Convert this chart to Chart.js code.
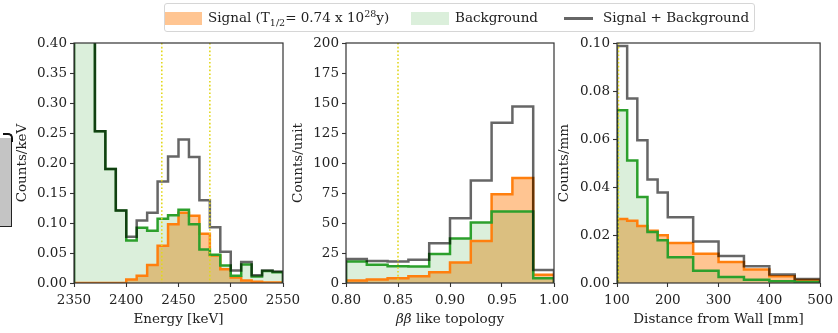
<!DOCTYPE html>
<html>
<head>
<meta charset="utf-8">
<script src="https://cdn.jsdelivr.net/npm/chart.js@4.4.1/dist/chart.umd.min.js"></script>
<style>
  body { margin: 0; width: 838px; height: 333px; background: #fff; position: relative; overflow: hidden; font-family: "DejaVu Serif", serif; color: #222; }
  canvas { position: absolute; left: 0; top: 0; }
  #legend { position: absolute; left: 164px; top: 3px; width: 591px; height: 29px; box-sizing: border-box; border: 1px solid #d6d6d6; border-radius: 3px; background: #fff; }
  #legend .sw { position: absolute; top: 8px; width: 37px; height: 13px; }
  #legend .txt { position: absolute; top: 5px; font-size: 13.5px; line-height: 17px; white-space: nowrap; }
  #legend sub, #legend sup { font-size: 9.5px; line-height: 0; }
  #legend .ln { position: absolute; top: 13px; width: 29px; height: 2.5px; background: rgba(0,0,0,0.6); }
  #stub { position: absolute; left: 0; top: 138px; width: 11px; height: 88px; background: #c4c4c4; border-right: 1.5px solid #222; border-bottom: 1.5px solid #222; }
  #stub-hook { position: absolute; left: 3px; top: 133px; width: 8px; height: 7px; border-top: 2.5px solid #111; border-right: 2.5px solid #111; border-top-right-radius: 5px; }
</style>
</head>
<body>
<canvas id="energy" width="838" height="333"></canvas>
<canvas id="topology" width="838" height="333"></canvas>
<canvas id="wall" width="838" height="333"></canvas>

<div id="stub"></div>
<div id="stub-hook"></div>

<div id="legend">
  <div class="sw" style="left:0px; background: rgba(255,127,14,0.45);"></div>
  <div class="txt" style="left:43px;">Signal (T<sub>1/2</sub>= 0.74 x 10<sup>28</sup>y)</div>
  <div class="sw" style="left:246px; width:38px; background: rgba(44,160,44,0.17);"></div>
  <div class="txt" style="left:290px;">Background</div>
  <div class="ln" style="left:399px;"></div>
  <div class="txt" style="left:438px;">Signal + Background</div>
</div>

<script>
// energy spectrum, 10 keV bins
const energyEdges = [2350, 2360, 2370, 2380, 2390, 2400, 2410, 2420, 2430, 2440, 2450,
                     2460, 2470, 2480, 2490, 2500, 2510, 2520, 2530, 2540, 2550];
const energySignal = [0, 0, 0, 0, 0, 0.006, 0.012, 0.030, 0.062, 0.098, 0.117,
                      0.112, 0.082, 0.046, 0.023, 0.009, 0.004, 0.002, 0.001, 0.001];
const energyBackground = [0.62, 0.50, 0.253, 0.190, 0.121, 0.071, 0.092, 0.087, 0.107, 0.113,
                          0.122, 0.098, 0.056, 0.047, 0.029, 0.012, 0.031, 0.011, 0.020, 0.018];
const energyCuts = [2434, 2480];

// topology classifier output
const topoEdges = [0.80, 0.82, 0.84, 0.86, 0.88, 0.90, 0.92, 0.94, 0.96, 0.98, 1.00];
const topoSignal = [2, 3, 4, 5.6, 9, 17, 35, 74, 87.5, 6.8];
const topoBackground = [18, 15.3, 14, 13.8, 24.2, 37, 50.5, 59.5, 59.5, 4];
const topoCuts = [0.85];

// distance from the wall
const wallEdges = [100, 120, 140, 160, 180, 200, 250, 300, 350, 400, 450, 500];
const wallSignal = [0.0267, 0.0259, 0.0237, 0.0218, 0.0199, 0.0167, 0.0122, 0.0088, 0.0056, 0.0028, 0.0013];
const wallBackground = [0.0720, 0.0510, 0.0358, 0.0213, 0.0178, 0.0107, 0.0051, 0.0025, 0.0014, 0.0007, 0.0004];
const wallCuts = [103];

const FONT = { family: 'DejaVu Serif', size: 13.5 };
Chart.defaults.font.family = FONT.family;
Chart.defaults.font.size = FONT.size;
Chart.defaults.color = '#222';

// histogram outline: rise from zero at the first edge, drop back at the last
function steps(edges, values) {
  const pts = [{ x: edges[0], y: 0 }];
  values.forEach((v, i) => pts.push({ x: edges[i], y: v }));
  pts.push({ x: edges[edges.length - 1], y: values[values.length - 1] });
  pts.push({ x: edges[edges.length - 1], y: 0 });
  return pts;
}

// cut lines plus the box around the axes
function framePlugin(cuts) {
  return {
    id: 'frame',
    afterDatasetsDraw(chart) {
      const { ctx, chartArea: a } = chart;
      const x = chart.scales.x;
      ctx.save();
      ctx.strokeStyle = '#e2d81c';
      ctx.lineWidth = 1.6;
      ctx.setLineDash([1.6, 2.2]);
      cuts.forEach(v => {
        const px = x.getPixelForValue(v);
        ctx.beginPath();
        ctx.moveTo(px, a.top);
        ctx.lineTo(px, a.bottom);
        ctx.stroke();
      });
      ctx.setLineDash([]);
      ctx.strokeStyle = '#333';
      ctx.lineWidth = 1.2;
      ctx.strokeRect(a.left, a.top, a.right - a.left, a.bottom - a.top);
      ctx.restore();
    }
  };
}

// x title with an italic beta-beta in front
const betaTitle = {
  id: 'betaTitle',
  afterDraw(chart) {
    const { ctx, chartArea: a } = chart;
    const y = chart.scales.x.bottom - 5 - FONT.size * 1.2 / 2;
    const italic = 'italic ' + FONT.size + 'px "DejaVu Serif"';
    const roman = FONT.size + 'px "DejaVu Serif"';
    ctx.save();
    ctx.font = italic;
    const w1 = ctx.measureText('ββ').width;
    ctx.font = roman;
    const w2 = ctx.measureText(' like topology').width;
    const x0 = (a.left + a.right) / 2 - (w1 + w2) / 2;
    ctx.textBaseline = 'middle';
    ctx.fillStyle = '#222';
    ctx.font = italic;
    ctx.fillText('ββ', x0, y);
    ctx.font = roman;
    ctx.fillText(' like topology', x0 + w1, y);
    ctx.restore();
  }
};

function axisGrid() {
  return { display: true, drawOnChartArea: false, drawTicks: true, tickLength: 4, tickColor: '#333', tickWidth: 1.1 };
}

function makePanel(id, p) {
  const total = p.signal.map((s, i) => s + p.background[i]);
  const line = { stepped: 'before', pointRadius: 0, borderWidth: 2.5, borderJoinStyle: 'miter', tension: 0 };
  const plugins = [framePlugin(p.cuts)];
  if (p.betaTitle) plugins.push(betaTitle);

  return new Chart(document.getElementById(id), {
    type: 'line',
    data: {
      datasets: [
        Object.assign({ label: 'Signal + Background', data: steps(p.edges, total),
          borderColor: 'rgba(0,0,0,0.6)', fill: false }, line),
        Object.assign({ label: 'Background', data: steps(p.edges, p.background),
          borderColor: '#2ca02c', backgroundColor: 'rgba(44,160,44,0.17)', fill: 'origin' }, line),
        Object.assign({ label: 'Signal', data: steps(p.edges, p.signal),
          borderColor: '#ff7f0e', backgroundColor: 'rgba(255,127,14,0.45)', fill: 'origin' }, line)
      ]
    },
    options: {
      responsive: false,
      animation: false,
      events: [],
      layout: { padding: { left: p.boxLeft, right: 838 - p.right, top: 43, bottom: 0 } },
      plugins: {
        legend: { display: false },
        tooltip: { enabled: false },
        filler: { drawTime: 'beforeDatasetsDraw' }
      },
      scales: {
        x: {
          type: 'linear',
          min: p.xMin, max: p.xMax,
          grid: axisGrid(),
          border: { display: false },
          ticks: { stepSize: p.xStep, autoSkip: false, maxRotation: 0, padding: 5,
                   callback: v => v.toFixed(p.xDigits) },
          title: { display: !p.betaTitle, text: p.xTitle, padding: { top: 0, bottom: 5 } },
          afterFit: s => { s.height = 50; }
        },
        y: {
          min: 0, max: p.yMax,
          grid: axisGrid(),
          border: { display: false },
          ticks: { stepSize: p.yStep, padding: 3, callback: v => v.toFixed(p.yDigits) },
          title: { display: true, text: p.yTitle, padding: { top: p.titlePad, bottom: 0 } },
          afterFit: s => { s.width = p.left - p.boxLeft; }
        }
      }
    },
    plugins: plugins
  });
}

makePanel('energy', {
  edges: energyEdges, signal: energySignal, background: energyBackground, cuts: energyCuts,
  boxLeft: 0, left: 74, right: 283, titlePad: 14,
  xMin: 2350, xMax: 2550, xStep: 50, xDigits: 0, xTitle: 'Energy [keV]',
  yMax: 0.40, yStep: 0.05, yDigits: 2, yTitle: 'Counts/keV'
});

makePanel('topology', {
  edges: topoEdges, signal: topoSignal, background: topoBackground, cuts: topoCuts,
  boxLeft: 284, left: 346, right: 554, titlePad: 6.5, betaTitle: true,
  xMin: 0.80, xMax: 1.00, xStep: 0.05, xDigits: 2, xTitle: 'ββ like topology',
  yMax: 200, yStep: 25, yDigits: 0, yTitle: 'Counts/unit'
});

makePanel('wall', {
  edges: wallEdges, signal: wallSignal, background: wallBackground, cuts: wallCuts,
  boxLeft: 550, left: 617, right: 826, titlePad: 6.4,
  xMin: 100, xMax: 500, xStep: 100, xDigits: 0, xTitle: 'Distance from Wall [mm]',
  yMax: 0.10, yStep: 0.02, yDigits: 2, yTitle: 'Counts/mm'
});
</script>
</body>
</html>
